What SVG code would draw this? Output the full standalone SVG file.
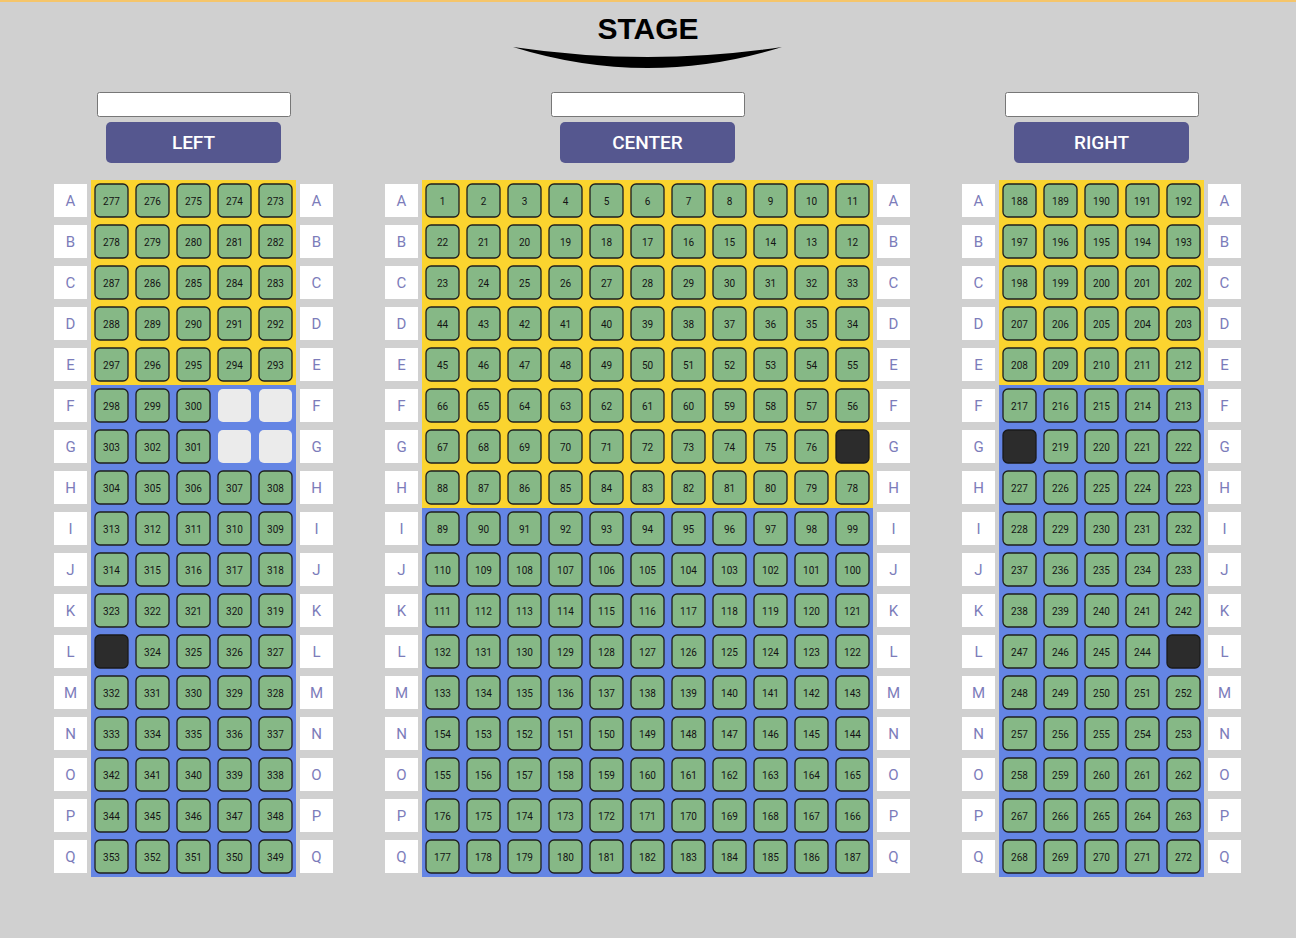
<svg xmlns="http://www.w3.org/2000/svg" xmlns:xlink="http://www.w3.org/1999/xlink" width="1296" height="938" viewBox="0 0 1296 938">
<style>
.st{fill:#86b886;stroke:#1e1e1e;stroke-width:1.3}
.bk{fill:#2c2c2c;stroke:#1a1a1a;stroke-width:1.3}
.em{fill:#ebebeb}
text{font-family:Roboto,"Liberation Sans",sans-serif}
.n{font-size:10px;fill:#141414;text-anchor:middle}
.lb{fill:#ffffff}
.lt{font-size:15px;fill:#7c7cba;text-anchor:middle}
.inp{fill:#ffffff;stroke:#777777;stroke-width:1}
.btn{fill:#55578f}
.bt{font-size:19px;font-weight:500;fill:#ffffff;text-anchor:middle}
.yl{fill:#fbd42f}
.bl{fill:#6485e4}
.stg{font-family:"Liberation Sans",Arial,sans-serif;font-size:30px;font-weight:bold;fill:#000;text-anchor:middle}
</style>
<defs>
<rect id="seat" class="st" width="33" height="33" rx="5"/>
<rect id="black" class="bk" width="33" height="33" rx="5"/>
<rect id="empty" class="em" width="33" height="33" rx="5"/>
<rect id="lbox" class="lb" width="33" height="33"/>
</defs>
<rect width="1296" height="938" fill="#d0d0d0"/>
<rect width="1296" height="2" fill="#f5c56a"/>
<g id="stage">
<text class="stg" x="648" y="39">STAGE</text>
<path d="M513,47 Q648,67 782,47 Q648,89 513,47 Z" fill="#000"/>
</g>
<g id="hdr-left"><rect class="inp" x="97.5" y="92.5" width="193" height="24" rx="2"/><rect class="btn" x="106" y="122" width="175" height="41" rx="5"/><text class="bt" x="193.5" y="148.5">LEFT</text></g>
<g id="hdr-center"><rect class="inp" x="551.5" y="92.5" width="193" height="24" rx="2"/><rect class="btn" x="560" y="122" width="175" height="41" rx="5"/><text class="bt" x="647.5" y="148.5">CENTER</text></g>
<g id="hdr-right"><rect class="inp" x="1005.5" y="92.5" width="193" height="24" rx="2"/><rect class="btn" x="1014" y="122" width="175" height="41" rx="5"/><text class="bt" x="1101.5" y="148.5">RIGHT</text></g>
<g id="panels">
<rect class="yl" x="91" y="180" width="205" height="205"/><rect class="bl" x="91" y="385" width="205" height="492"/>
<rect class="yl" x="422" y="180" width="451" height="328"/><rect class="bl" x="422" y="508" width="451" height="369"/>
<rect class="yl" x="999" y="180" width="205" height="205"/><rect class="bl" x="999" y="385" width="205" height="492"/>
</g>
<g id="row-labels">
<g id="lbl-A-left"><use href="#lbox" x="54" y="184"/><text class="lt" x="70.5" y="205.5">A</text><use href="#lbox" x="300" y="184"/><text class="lt" x="316.5" y="205.5">A</text></g>
<g id="lbl-B-left"><use href="#lbox" x="54" y="225"/><text class="lt" x="70.5" y="246.5">B</text><use href="#lbox" x="300" y="225"/><text class="lt" x="316.5" y="246.5">B</text></g>
<g id="lbl-C-left"><use href="#lbox" x="54" y="266"/><text class="lt" x="70.5" y="287.5">C</text><use href="#lbox" x="300" y="266"/><text class="lt" x="316.5" y="287.5">C</text></g>
<g id="lbl-D-left"><use href="#lbox" x="54" y="307"/><text class="lt" x="70.5" y="328.5">D</text><use href="#lbox" x="300" y="307"/><text class="lt" x="316.5" y="328.5">D</text></g>
<g id="lbl-E-left"><use href="#lbox" x="54" y="348"/><text class="lt" x="70.5" y="369.5">E</text><use href="#lbox" x="300" y="348"/><text class="lt" x="316.5" y="369.5">E</text></g>
<g id="lbl-F-left"><use href="#lbox" x="54" y="389"/><text class="lt" x="70.5" y="410.5">F</text><use href="#lbox" x="300" y="389"/><text class="lt" x="316.5" y="410.5">F</text></g>
<g id="lbl-G-left"><use href="#lbox" x="54" y="430"/><text class="lt" x="70.5" y="451.5">G</text><use href="#lbox" x="300" y="430"/><text class="lt" x="316.5" y="451.5">G</text></g>
<g id="lbl-H-left"><use href="#lbox" x="54" y="471"/><text class="lt" x="70.5" y="492.5">H</text><use href="#lbox" x="300" y="471"/><text class="lt" x="316.5" y="492.5">H</text></g>
<g id="lbl-I-left"><use href="#lbox" x="54" y="512"/><text class="lt" x="70.5" y="533.5">I</text><use href="#lbox" x="300" y="512"/><text class="lt" x="316.5" y="533.5">I</text></g>
<g id="lbl-J-left"><use href="#lbox" x="54" y="553"/><text class="lt" x="70.5" y="574.5">J</text><use href="#lbox" x="300" y="553"/><text class="lt" x="316.5" y="574.5">J</text></g>
<g id="lbl-K-left"><use href="#lbox" x="54" y="594"/><text class="lt" x="70.5" y="615.5">K</text><use href="#lbox" x="300" y="594"/><text class="lt" x="316.5" y="615.5">K</text></g>
<g id="lbl-L-left"><use href="#lbox" x="54" y="635"/><text class="lt" x="70.5" y="656.5">L</text><use href="#lbox" x="300" y="635"/><text class="lt" x="316.5" y="656.5">L</text></g>
<g id="lbl-M-left"><use href="#lbox" x="54" y="676"/><text class="lt" x="70.5" y="697.5">M</text><use href="#lbox" x="300" y="676"/><text class="lt" x="316.5" y="697.5">M</text></g>
<g id="lbl-N-left"><use href="#lbox" x="54" y="717"/><text class="lt" x="70.5" y="738.5">N</text><use href="#lbox" x="300" y="717"/><text class="lt" x="316.5" y="738.5">N</text></g>
<g id="lbl-O-left"><use href="#lbox" x="54" y="758"/><text class="lt" x="70.5" y="779.5">O</text><use href="#lbox" x="300" y="758"/><text class="lt" x="316.5" y="779.5">O</text></g>
<g id="lbl-P-left"><use href="#lbox" x="54" y="799"/><text class="lt" x="70.5" y="820.5">P</text><use href="#lbox" x="300" y="799"/><text class="lt" x="316.5" y="820.5">P</text></g>
<g id="lbl-Q-left"><use href="#lbox" x="54" y="840"/><text class="lt" x="70.5" y="861.5">Q</text><use href="#lbox" x="300" y="840"/><text class="lt" x="316.5" y="861.5">Q</text></g>
<g id="lbl-A-center"><use href="#lbox" x="385" y="184"/><text class="lt" x="401.5" y="205.5">A</text><use href="#lbox" x="877" y="184"/><text class="lt" x="893.5" y="205.5">A</text></g>
<g id="lbl-B-center"><use href="#lbox" x="385" y="225"/><text class="lt" x="401.5" y="246.5">B</text><use href="#lbox" x="877" y="225"/><text class="lt" x="893.5" y="246.5">B</text></g>
<g id="lbl-C-center"><use href="#lbox" x="385" y="266"/><text class="lt" x="401.5" y="287.5">C</text><use href="#lbox" x="877" y="266"/><text class="lt" x="893.5" y="287.5">C</text></g>
<g id="lbl-D-center"><use href="#lbox" x="385" y="307"/><text class="lt" x="401.5" y="328.5">D</text><use href="#lbox" x="877" y="307"/><text class="lt" x="893.5" y="328.5">D</text></g>
<g id="lbl-E-center"><use href="#lbox" x="385" y="348"/><text class="lt" x="401.5" y="369.5">E</text><use href="#lbox" x="877" y="348"/><text class="lt" x="893.5" y="369.5">E</text></g>
<g id="lbl-F-center"><use href="#lbox" x="385" y="389"/><text class="lt" x="401.5" y="410.5">F</text><use href="#lbox" x="877" y="389"/><text class="lt" x="893.5" y="410.5">F</text></g>
<g id="lbl-G-center"><use href="#lbox" x="385" y="430"/><text class="lt" x="401.5" y="451.5">G</text><use href="#lbox" x="877" y="430"/><text class="lt" x="893.5" y="451.5">G</text></g>
<g id="lbl-H-center"><use href="#lbox" x="385" y="471"/><text class="lt" x="401.5" y="492.5">H</text><use href="#lbox" x="877" y="471"/><text class="lt" x="893.5" y="492.5">H</text></g>
<g id="lbl-I-center"><use href="#lbox" x="385" y="512"/><text class="lt" x="401.5" y="533.5">I</text><use href="#lbox" x="877" y="512"/><text class="lt" x="893.5" y="533.5">I</text></g>
<g id="lbl-J-center"><use href="#lbox" x="385" y="553"/><text class="lt" x="401.5" y="574.5">J</text><use href="#lbox" x="877" y="553"/><text class="lt" x="893.5" y="574.5">J</text></g>
<g id="lbl-K-center"><use href="#lbox" x="385" y="594"/><text class="lt" x="401.5" y="615.5">K</text><use href="#lbox" x="877" y="594"/><text class="lt" x="893.5" y="615.5">K</text></g>
<g id="lbl-L-center"><use href="#lbox" x="385" y="635"/><text class="lt" x="401.5" y="656.5">L</text><use href="#lbox" x="877" y="635"/><text class="lt" x="893.5" y="656.5">L</text></g>
<g id="lbl-M-center"><use href="#lbox" x="385" y="676"/><text class="lt" x="401.5" y="697.5">M</text><use href="#lbox" x="877" y="676"/><text class="lt" x="893.5" y="697.5">M</text></g>
<g id="lbl-N-center"><use href="#lbox" x="385" y="717"/><text class="lt" x="401.5" y="738.5">N</text><use href="#lbox" x="877" y="717"/><text class="lt" x="893.5" y="738.5">N</text></g>
<g id="lbl-O-center"><use href="#lbox" x="385" y="758"/><text class="lt" x="401.5" y="779.5">O</text><use href="#lbox" x="877" y="758"/><text class="lt" x="893.5" y="779.5">O</text></g>
<g id="lbl-P-center"><use href="#lbox" x="385" y="799"/><text class="lt" x="401.5" y="820.5">P</text><use href="#lbox" x="877" y="799"/><text class="lt" x="893.5" y="820.5">P</text></g>
<g id="lbl-Q-center"><use href="#lbox" x="385" y="840"/><text class="lt" x="401.5" y="861.5">Q</text><use href="#lbox" x="877" y="840"/><text class="lt" x="893.5" y="861.5">Q</text></g>
<g id="lbl-A-right"><use href="#lbox" x="962" y="184"/><text class="lt" x="978.5" y="205.5">A</text><use href="#lbox" x="1208" y="184"/><text class="lt" x="1224.5" y="205.5">A</text></g>
<g id="lbl-B-right"><use href="#lbox" x="962" y="225"/><text class="lt" x="978.5" y="246.5">B</text><use href="#lbox" x="1208" y="225"/><text class="lt" x="1224.5" y="246.5">B</text></g>
<g id="lbl-C-right"><use href="#lbox" x="962" y="266"/><text class="lt" x="978.5" y="287.5">C</text><use href="#lbox" x="1208" y="266"/><text class="lt" x="1224.5" y="287.5">C</text></g>
<g id="lbl-D-right"><use href="#lbox" x="962" y="307"/><text class="lt" x="978.5" y="328.5">D</text><use href="#lbox" x="1208" y="307"/><text class="lt" x="1224.5" y="328.5">D</text></g>
<g id="lbl-E-right"><use href="#lbox" x="962" y="348"/><text class="lt" x="978.5" y="369.5">E</text><use href="#lbox" x="1208" y="348"/><text class="lt" x="1224.5" y="369.5">E</text></g>
<g id="lbl-F-right"><use href="#lbox" x="962" y="389"/><text class="lt" x="978.5" y="410.5">F</text><use href="#lbox" x="1208" y="389"/><text class="lt" x="1224.5" y="410.5">F</text></g>
<g id="lbl-G-right"><use href="#lbox" x="962" y="430"/><text class="lt" x="978.5" y="451.5">G</text><use href="#lbox" x="1208" y="430"/><text class="lt" x="1224.5" y="451.5">G</text></g>
<g id="lbl-H-right"><use href="#lbox" x="962" y="471"/><text class="lt" x="978.5" y="492.5">H</text><use href="#lbox" x="1208" y="471"/><text class="lt" x="1224.5" y="492.5">H</text></g>
<g id="lbl-I-right"><use href="#lbox" x="962" y="512"/><text class="lt" x="978.5" y="533.5">I</text><use href="#lbox" x="1208" y="512"/><text class="lt" x="1224.5" y="533.5">I</text></g>
<g id="lbl-J-right"><use href="#lbox" x="962" y="553"/><text class="lt" x="978.5" y="574.5">J</text><use href="#lbox" x="1208" y="553"/><text class="lt" x="1224.5" y="574.5">J</text></g>
<g id="lbl-K-right"><use href="#lbox" x="962" y="594"/><text class="lt" x="978.5" y="615.5">K</text><use href="#lbox" x="1208" y="594"/><text class="lt" x="1224.5" y="615.5">K</text></g>
<g id="lbl-L-right"><use href="#lbox" x="962" y="635"/><text class="lt" x="978.5" y="656.5">L</text><use href="#lbox" x="1208" y="635"/><text class="lt" x="1224.5" y="656.5">L</text></g>
<g id="lbl-M-right"><use href="#lbox" x="962" y="676"/><text class="lt" x="978.5" y="697.5">M</text><use href="#lbox" x="1208" y="676"/><text class="lt" x="1224.5" y="697.5">M</text></g>
<g id="lbl-N-right"><use href="#lbox" x="962" y="717"/><text class="lt" x="978.5" y="738.5">N</text><use href="#lbox" x="1208" y="717"/><text class="lt" x="1224.5" y="738.5">N</text></g>
<g id="lbl-O-right"><use href="#lbox" x="962" y="758"/><text class="lt" x="978.5" y="779.5">O</text><use href="#lbox" x="1208" y="758"/><text class="lt" x="1224.5" y="779.5">O</text></g>
<g id="lbl-P-right"><use href="#lbox" x="962" y="799"/><text class="lt" x="978.5" y="820.5">P</text><use href="#lbox" x="1208" y="799"/><text class="lt" x="1224.5" y="820.5">P</text></g>
<g id="lbl-Q-right"><use href="#lbox" x="962" y="840"/><text class="lt" x="978.5" y="861.5">Q</text><use href="#lbox" x="1208" y="840"/><text class="lt" x="1224.5" y="861.5">Q</text></g>
</g>
<g id="left-seats">
<g id="s277" transform="translate(95,184)"><use href="#seat"/><text class="n" x="16.5" y="21">277</text></g>
<g id="s276" transform="translate(136,184)"><use href="#seat"/><text class="n" x="16.5" y="21">276</text></g>
<g id="s275" transform="translate(177,184)"><use href="#seat"/><text class="n" x="16.5" y="21">275</text></g>
<g id="s274" transform="translate(218,184)"><use href="#seat"/><text class="n" x="16.5" y="21">274</text></g>
<g id="s273" transform="translate(259,184)"><use href="#seat"/><text class="n" x="16.5" y="21">273</text></g>
<g id="s278" transform="translate(95,225)"><use href="#seat"/><text class="n" x="16.5" y="21">278</text></g>
<g id="s279" transform="translate(136,225)"><use href="#seat"/><text class="n" x="16.5" y="21">279</text></g>
<g id="s280" transform="translate(177,225)"><use href="#seat"/><text class="n" x="16.5" y="21">280</text></g>
<g id="s281" transform="translate(218,225)"><use href="#seat"/><text class="n" x="16.5" y="21">281</text></g>
<g id="s282" transform="translate(259,225)"><use href="#seat"/><text class="n" x="16.5" y="21">282</text></g>
<g id="s287" transform="translate(95,266)"><use href="#seat"/><text class="n" x="16.5" y="21">287</text></g>
<g id="s286" transform="translate(136,266)"><use href="#seat"/><text class="n" x="16.5" y="21">286</text></g>
<g id="s285" transform="translate(177,266)"><use href="#seat"/><text class="n" x="16.5" y="21">285</text></g>
<g id="s284" transform="translate(218,266)"><use href="#seat"/><text class="n" x="16.5" y="21">284</text></g>
<g id="s283" transform="translate(259,266)"><use href="#seat"/><text class="n" x="16.5" y="21">283</text></g>
<g id="s288" transform="translate(95,307)"><use href="#seat"/><text class="n" x="16.5" y="21">288</text></g>
<g id="s289" transform="translate(136,307)"><use href="#seat"/><text class="n" x="16.5" y="21">289</text></g>
<g id="s290" transform="translate(177,307)"><use href="#seat"/><text class="n" x="16.5" y="21">290</text></g>
<g id="s291" transform="translate(218,307)"><use href="#seat"/><text class="n" x="16.5" y="21">291</text></g>
<g id="s292" transform="translate(259,307)"><use href="#seat"/><text class="n" x="16.5" y="21">292</text></g>
<g id="s297" transform="translate(95,348)"><use href="#seat"/><text class="n" x="16.5" y="21">297</text></g>
<g id="s296" transform="translate(136,348)"><use href="#seat"/><text class="n" x="16.5" y="21">296</text></g>
<g id="s295" transform="translate(177,348)"><use href="#seat"/><text class="n" x="16.5" y="21">295</text></g>
<g id="s294" transform="translate(218,348)"><use href="#seat"/><text class="n" x="16.5" y="21">294</text></g>
<g id="s293" transform="translate(259,348)"><use href="#seat"/><text class="n" x="16.5" y="21">293</text></g>
<g id="s298" transform="translate(95,389)"><use href="#seat"/><text class="n" x="16.5" y="21">298</text></g>
<g id="s299" transform="translate(136,389)"><use href="#seat"/><text class="n" x="16.5" y="21">299</text></g>
<g id="s300" transform="translate(177,389)"><use href="#seat"/><text class="n" x="16.5" y="21">300</text></g>
<g id="sLF4" transform="translate(218,389)"><use href="#empty"/></g>
<g id="sLF5" transform="translate(259,389)"><use href="#empty"/></g>
<g id="s303" transform="translate(95,430)"><use href="#seat"/><text class="n" x="16.5" y="21">303</text></g>
<g id="s302" transform="translate(136,430)"><use href="#seat"/><text class="n" x="16.5" y="21">302</text></g>
<g id="s301" transform="translate(177,430)"><use href="#seat"/><text class="n" x="16.5" y="21">301</text></g>
<g id="sLG4" transform="translate(218,430)"><use href="#empty"/></g>
<g id="sLG5" transform="translate(259,430)"><use href="#empty"/></g>
<g id="s304" transform="translate(95,471)"><use href="#seat"/><text class="n" x="16.5" y="21">304</text></g>
<g id="s305" transform="translate(136,471)"><use href="#seat"/><text class="n" x="16.5" y="21">305</text></g>
<g id="s306" transform="translate(177,471)"><use href="#seat"/><text class="n" x="16.5" y="21">306</text></g>
<g id="s307" transform="translate(218,471)"><use href="#seat"/><text class="n" x="16.5" y="21">307</text></g>
<g id="s308" transform="translate(259,471)"><use href="#seat"/><text class="n" x="16.5" y="21">308</text></g>
<g id="s313" transform="translate(95,512)"><use href="#seat"/><text class="n" x="16.5" y="21">313</text></g>
<g id="s312" transform="translate(136,512)"><use href="#seat"/><text class="n" x="16.5" y="21">312</text></g>
<g id="s311" transform="translate(177,512)"><use href="#seat"/><text class="n" x="16.5" y="21">311</text></g>
<g id="s310" transform="translate(218,512)"><use href="#seat"/><text class="n" x="16.5" y="21">310</text></g>
<g id="s309" transform="translate(259,512)"><use href="#seat"/><text class="n" x="16.5" y="21">309</text></g>
<g id="s314" transform="translate(95,553)"><use href="#seat"/><text class="n" x="16.5" y="21">314</text></g>
<g id="s315" transform="translate(136,553)"><use href="#seat"/><text class="n" x="16.5" y="21">315</text></g>
<g id="s316" transform="translate(177,553)"><use href="#seat"/><text class="n" x="16.5" y="21">316</text></g>
<g id="s317" transform="translate(218,553)"><use href="#seat"/><text class="n" x="16.5" y="21">317</text></g>
<g id="s318" transform="translate(259,553)"><use href="#seat"/><text class="n" x="16.5" y="21">318</text></g>
<g id="s323" transform="translate(95,594)"><use href="#seat"/><text class="n" x="16.5" y="21">323</text></g>
<g id="s322" transform="translate(136,594)"><use href="#seat"/><text class="n" x="16.5" y="21">322</text></g>
<g id="s321" transform="translate(177,594)"><use href="#seat"/><text class="n" x="16.5" y="21">321</text></g>
<g id="s320" transform="translate(218,594)"><use href="#seat"/><text class="n" x="16.5" y="21">320</text></g>
<g id="s319" transform="translate(259,594)"><use href="#seat"/><text class="n" x="16.5" y="21">319</text></g>
<g id="sLL1" transform="translate(95,635)"><use href="#black"/></g>
<g id="s324" transform="translate(136,635)"><use href="#seat"/><text class="n" x="16.5" y="21">324</text></g>
<g id="s325" transform="translate(177,635)"><use href="#seat"/><text class="n" x="16.5" y="21">325</text></g>
<g id="s326" transform="translate(218,635)"><use href="#seat"/><text class="n" x="16.5" y="21">326</text></g>
<g id="s327" transform="translate(259,635)"><use href="#seat"/><text class="n" x="16.5" y="21">327</text></g>
<g id="s332" transform="translate(95,676)"><use href="#seat"/><text class="n" x="16.5" y="21">332</text></g>
<g id="s331" transform="translate(136,676)"><use href="#seat"/><text class="n" x="16.5" y="21">331</text></g>
<g id="s330" transform="translate(177,676)"><use href="#seat"/><text class="n" x="16.5" y="21">330</text></g>
<g id="s329" transform="translate(218,676)"><use href="#seat"/><text class="n" x="16.5" y="21">329</text></g>
<g id="s328" transform="translate(259,676)"><use href="#seat"/><text class="n" x="16.5" y="21">328</text></g>
<g id="s333" transform="translate(95,717)"><use href="#seat"/><text class="n" x="16.5" y="21">333</text></g>
<g id="s334" transform="translate(136,717)"><use href="#seat"/><text class="n" x="16.5" y="21">334</text></g>
<g id="s335" transform="translate(177,717)"><use href="#seat"/><text class="n" x="16.5" y="21">335</text></g>
<g id="s336" transform="translate(218,717)"><use href="#seat"/><text class="n" x="16.5" y="21">336</text></g>
<g id="s337" transform="translate(259,717)"><use href="#seat"/><text class="n" x="16.5" y="21">337</text></g>
<g id="s342" transform="translate(95,758)"><use href="#seat"/><text class="n" x="16.5" y="21">342</text></g>
<g id="s341" transform="translate(136,758)"><use href="#seat"/><text class="n" x="16.5" y="21">341</text></g>
<g id="s340" transform="translate(177,758)"><use href="#seat"/><text class="n" x="16.5" y="21">340</text></g>
<g id="s339" transform="translate(218,758)"><use href="#seat"/><text class="n" x="16.5" y="21">339</text></g>
<g id="s338" transform="translate(259,758)"><use href="#seat"/><text class="n" x="16.5" y="21">338</text></g>
<g id="s344" transform="translate(95,799)"><use href="#seat"/><text class="n" x="16.5" y="21">344</text></g>
<g id="s345" transform="translate(136,799)"><use href="#seat"/><text class="n" x="16.5" y="21">345</text></g>
<g id="s346" transform="translate(177,799)"><use href="#seat"/><text class="n" x="16.5" y="21">346</text></g>
<g id="s347" transform="translate(218,799)"><use href="#seat"/><text class="n" x="16.5" y="21">347</text></g>
<g id="s348" transform="translate(259,799)"><use href="#seat"/><text class="n" x="16.5" y="21">348</text></g>
<g id="s353" transform="translate(95,840)"><use href="#seat"/><text class="n" x="16.5" y="21">353</text></g>
<g id="s352" transform="translate(136,840)"><use href="#seat"/><text class="n" x="16.5" y="21">352</text></g>
<g id="s351" transform="translate(177,840)"><use href="#seat"/><text class="n" x="16.5" y="21">351</text></g>
<g id="s350" transform="translate(218,840)"><use href="#seat"/><text class="n" x="16.5" y="21">350</text></g>
<g id="s349" transform="translate(259,840)"><use href="#seat"/><text class="n" x="16.5" y="21">349</text></g>
</g>
<g id="center-seats">
<g id="s1" transform="translate(426,184)"><use href="#seat"/><text class="n" x="16.5" y="21">1</text></g>
<g id="s2" transform="translate(467,184)"><use href="#seat"/><text class="n" x="16.5" y="21">2</text></g>
<g id="s3" transform="translate(508,184)"><use href="#seat"/><text class="n" x="16.5" y="21">3</text></g>
<g id="s4" transform="translate(549,184)"><use href="#seat"/><text class="n" x="16.5" y="21">4</text></g>
<g id="s5" transform="translate(590,184)"><use href="#seat"/><text class="n" x="16.5" y="21">5</text></g>
<g id="s6" transform="translate(631,184)"><use href="#seat"/><text class="n" x="16.5" y="21">6</text></g>
<g id="s7" transform="translate(672,184)"><use href="#seat"/><text class="n" x="16.5" y="21">7</text></g>
<g id="s8" transform="translate(713,184)"><use href="#seat"/><text class="n" x="16.5" y="21">8</text></g>
<g id="s9" transform="translate(754,184)"><use href="#seat"/><text class="n" x="16.5" y="21">9</text></g>
<g id="s10" transform="translate(795,184)"><use href="#seat"/><text class="n" x="16.5" y="21">10</text></g>
<g id="s11" transform="translate(836,184)"><use href="#seat"/><text class="n" x="16.5" y="21">11</text></g>
<g id="s22" transform="translate(426,225)"><use href="#seat"/><text class="n" x="16.5" y="21">22</text></g>
<g id="s21" transform="translate(467,225)"><use href="#seat"/><text class="n" x="16.5" y="21">21</text></g>
<g id="s20" transform="translate(508,225)"><use href="#seat"/><text class="n" x="16.5" y="21">20</text></g>
<g id="s19" transform="translate(549,225)"><use href="#seat"/><text class="n" x="16.5" y="21">19</text></g>
<g id="s18" transform="translate(590,225)"><use href="#seat"/><text class="n" x="16.5" y="21">18</text></g>
<g id="s17" transform="translate(631,225)"><use href="#seat"/><text class="n" x="16.5" y="21">17</text></g>
<g id="s16" transform="translate(672,225)"><use href="#seat"/><text class="n" x="16.5" y="21">16</text></g>
<g id="s15" transform="translate(713,225)"><use href="#seat"/><text class="n" x="16.5" y="21">15</text></g>
<g id="s14" transform="translate(754,225)"><use href="#seat"/><text class="n" x="16.5" y="21">14</text></g>
<g id="s13" transform="translate(795,225)"><use href="#seat"/><text class="n" x="16.5" y="21">13</text></g>
<g id="s12" transform="translate(836,225)"><use href="#seat"/><text class="n" x="16.5" y="21">12</text></g>
<g id="s23" transform="translate(426,266)"><use href="#seat"/><text class="n" x="16.5" y="21">23</text></g>
<g id="s24" transform="translate(467,266)"><use href="#seat"/><text class="n" x="16.5" y="21">24</text></g>
<g id="s25" transform="translate(508,266)"><use href="#seat"/><text class="n" x="16.5" y="21">25</text></g>
<g id="s26" transform="translate(549,266)"><use href="#seat"/><text class="n" x="16.5" y="21">26</text></g>
<g id="s27" transform="translate(590,266)"><use href="#seat"/><text class="n" x="16.5" y="21">27</text></g>
<g id="s28" transform="translate(631,266)"><use href="#seat"/><text class="n" x="16.5" y="21">28</text></g>
<g id="s29" transform="translate(672,266)"><use href="#seat"/><text class="n" x="16.5" y="21">29</text></g>
<g id="s30" transform="translate(713,266)"><use href="#seat"/><text class="n" x="16.5" y="21">30</text></g>
<g id="s31" transform="translate(754,266)"><use href="#seat"/><text class="n" x="16.5" y="21">31</text></g>
<g id="s32" transform="translate(795,266)"><use href="#seat"/><text class="n" x="16.5" y="21">32</text></g>
<g id="s33" transform="translate(836,266)"><use href="#seat"/><text class="n" x="16.5" y="21">33</text></g>
<g id="s44" transform="translate(426,307)"><use href="#seat"/><text class="n" x="16.5" y="21">44</text></g>
<g id="s43" transform="translate(467,307)"><use href="#seat"/><text class="n" x="16.5" y="21">43</text></g>
<g id="s42" transform="translate(508,307)"><use href="#seat"/><text class="n" x="16.5" y="21">42</text></g>
<g id="s41" transform="translate(549,307)"><use href="#seat"/><text class="n" x="16.5" y="21">41</text></g>
<g id="s40" transform="translate(590,307)"><use href="#seat"/><text class="n" x="16.5" y="21">40</text></g>
<g id="s39" transform="translate(631,307)"><use href="#seat"/><text class="n" x="16.5" y="21">39</text></g>
<g id="s38" transform="translate(672,307)"><use href="#seat"/><text class="n" x="16.5" y="21">38</text></g>
<g id="s37" transform="translate(713,307)"><use href="#seat"/><text class="n" x="16.5" y="21">37</text></g>
<g id="s36" transform="translate(754,307)"><use href="#seat"/><text class="n" x="16.5" y="21">36</text></g>
<g id="s35" transform="translate(795,307)"><use href="#seat"/><text class="n" x="16.5" y="21">35</text></g>
<g id="s34" transform="translate(836,307)"><use href="#seat"/><text class="n" x="16.5" y="21">34</text></g>
<g id="s45" transform="translate(426,348)"><use href="#seat"/><text class="n" x="16.5" y="21">45</text></g>
<g id="s46" transform="translate(467,348)"><use href="#seat"/><text class="n" x="16.5" y="21">46</text></g>
<g id="s47" transform="translate(508,348)"><use href="#seat"/><text class="n" x="16.5" y="21">47</text></g>
<g id="s48" transform="translate(549,348)"><use href="#seat"/><text class="n" x="16.5" y="21">48</text></g>
<g id="s49" transform="translate(590,348)"><use href="#seat"/><text class="n" x="16.5" y="21">49</text></g>
<g id="s50" transform="translate(631,348)"><use href="#seat"/><text class="n" x="16.5" y="21">50</text></g>
<g id="s51" transform="translate(672,348)"><use href="#seat"/><text class="n" x="16.5" y="21">51</text></g>
<g id="s52" transform="translate(713,348)"><use href="#seat"/><text class="n" x="16.5" y="21">52</text></g>
<g id="s53" transform="translate(754,348)"><use href="#seat"/><text class="n" x="16.5" y="21">53</text></g>
<g id="s54" transform="translate(795,348)"><use href="#seat"/><text class="n" x="16.5" y="21">54</text></g>
<g id="s55" transform="translate(836,348)"><use href="#seat"/><text class="n" x="16.5" y="21">55</text></g>
<g id="s66" transform="translate(426,389)"><use href="#seat"/><text class="n" x="16.5" y="21">66</text></g>
<g id="s65" transform="translate(467,389)"><use href="#seat"/><text class="n" x="16.5" y="21">65</text></g>
<g id="s64" transform="translate(508,389)"><use href="#seat"/><text class="n" x="16.5" y="21">64</text></g>
<g id="s63" transform="translate(549,389)"><use href="#seat"/><text class="n" x="16.5" y="21">63</text></g>
<g id="s62" transform="translate(590,389)"><use href="#seat"/><text class="n" x="16.5" y="21">62</text></g>
<g id="s61" transform="translate(631,389)"><use href="#seat"/><text class="n" x="16.5" y="21">61</text></g>
<g id="s60" transform="translate(672,389)"><use href="#seat"/><text class="n" x="16.5" y="21">60</text></g>
<g id="s59" transform="translate(713,389)"><use href="#seat"/><text class="n" x="16.5" y="21">59</text></g>
<g id="s58" transform="translate(754,389)"><use href="#seat"/><text class="n" x="16.5" y="21">58</text></g>
<g id="s57" transform="translate(795,389)"><use href="#seat"/><text class="n" x="16.5" y="21">57</text></g>
<g id="s56" transform="translate(836,389)"><use href="#seat"/><text class="n" x="16.5" y="21">56</text></g>
<g id="s67" transform="translate(426,430)"><use href="#seat"/><text class="n" x="16.5" y="21">67</text></g>
<g id="s68" transform="translate(467,430)"><use href="#seat"/><text class="n" x="16.5" y="21">68</text></g>
<g id="s69" transform="translate(508,430)"><use href="#seat"/><text class="n" x="16.5" y="21">69</text></g>
<g id="s70" transform="translate(549,430)"><use href="#seat"/><text class="n" x="16.5" y="21">70</text></g>
<g id="s71" transform="translate(590,430)"><use href="#seat"/><text class="n" x="16.5" y="21">71</text></g>
<g id="s72" transform="translate(631,430)"><use href="#seat"/><text class="n" x="16.5" y="21">72</text></g>
<g id="s73" transform="translate(672,430)"><use href="#seat"/><text class="n" x="16.5" y="21">73</text></g>
<g id="s74" transform="translate(713,430)"><use href="#seat"/><text class="n" x="16.5" y="21">74</text></g>
<g id="s75" transform="translate(754,430)"><use href="#seat"/><text class="n" x="16.5" y="21">75</text></g>
<g id="s76" transform="translate(795,430)"><use href="#seat"/><text class="n" x="16.5" y="21">76</text></g>
<g id="sCG11" transform="translate(836,430)"><use href="#black"/></g>
<g id="s88" transform="translate(426,471)"><use href="#seat"/><text class="n" x="16.5" y="21">88</text></g>
<g id="s87" transform="translate(467,471)"><use href="#seat"/><text class="n" x="16.5" y="21">87</text></g>
<g id="s86" transform="translate(508,471)"><use href="#seat"/><text class="n" x="16.5" y="21">86</text></g>
<g id="s85" transform="translate(549,471)"><use href="#seat"/><text class="n" x="16.5" y="21">85</text></g>
<g id="s84" transform="translate(590,471)"><use href="#seat"/><text class="n" x="16.5" y="21">84</text></g>
<g id="s83" transform="translate(631,471)"><use href="#seat"/><text class="n" x="16.5" y="21">83</text></g>
<g id="s82" transform="translate(672,471)"><use href="#seat"/><text class="n" x="16.5" y="21">82</text></g>
<g id="s81" transform="translate(713,471)"><use href="#seat"/><text class="n" x="16.5" y="21">81</text></g>
<g id="s80" transform="translate(754,471)"><use href="#seat"/><text class="n" x="16.5" y="21">80</text></g>
<g id="s79" transform="translate(795,471)"><use href="#seat"/><text class="n" x="16.5" y="21">79</text></g>
<g id="s78" transform="translate(836,471)"><use href="#seat"/><text class="n" x="16.5" y="21">78</text></g>
<g id="s89" transform="translate(426,512)"><use href="#seat"/><text class="n" x="16.5" y="21">89</text></g>
<g id="s90" transform="translate(467,512)"><use href="#seat"/><text class="n" x="16.5" y="21">90</text></g>
<g id="s91" transform="translate(508,512)"><use href="#seat"/><text class="n" x="16.5" y="21">91</text></g>
<g id="s92" transform="translate(549,512)"><use href="#seat"/><text class="n" x="16.5" y="21">92</text></g>
<g id="s93" transform="translate(590,512)"><use href="#seat"/><text class="n" x="16.5" y="21">93</text></g>
<g id="s94" transform="translate(631,512)"><use href="#seat"/><text class="n" x="16.5" y="21">94</text></g>
<g id="s95" transform="translate(672,512)"><use href="#seat"/><text class="n" x="16.5" y="21">95</text></g>
<g id="s96" transform="translate(713,512)"><use href="#seat"/><text class="n" x="16.5" y="21">96</text></g>
<g id="s97" transform="translate(754,512)"><use href="#seat"/><text class="n" x="16.5" y="21">97</text></g>
<g id="s98" transform="translate(795,512)"><use href="#seat"/><text class="n" x="16.5" y="21">98</text></g>
<g id="s99" transform="translate(836,512)"><use href="#seat"/><text class="n" x="16.5" y="21">99</text></g>
<g id="s110" transform="translate(426,553)"><use href="#seat"/><text class="n" x="16.5" y="21">110</text></g>
<g id="s109" transform="translate(467,553)"><use href="#seat"/><text class="n" x="16.5" y="21">109</text></g>
<g id="s108" transform="translate(508,553)"><use href="#seat"/><text class="n" x="16.5" y="21">108</text></g>
<g id="s107" transform="translate(549,553)"><use href="#seat"/><text class="n" x="16.5" y="21">107</text></g>
<g id="s106" transform="translate(590,553)"><use href="#seat"/><text class="n" x="16.5" y="21">106</text></g>
<g id="s105" transform="translate(631,553)"><use href="#seat"/><text class="n" x="16.5" y="21">105</text></g>
<g id="s104" transform="translate(672,553)"><use href="#seat"/><text class="n" x="16.5" y="21">104</text></g>
<g id="s103" transform="translate(713,553)"><use href="#seat"/><text class="n" x="16.5" y="21">103</text></g>
<g id="s102" transform="translate(754,553)"><use href="#seat"/><text class="n" x="16.5" y="21">102</text></g>
<g id="s101" transform="translate(795,553)"><use href="#seat"/><text class="n" x="16.5" y="21">101</text></g>
<g id="s100" transform="translate(836,553)"><use href="#seat"/><text class="n" x="16.5" y="21">100</text></g>
<g id="s111" transform="translate(426,594)"><use href="#seat"/><text class="n" x="16.5" y="21">111</text></g>
<g id="s112" transform="translate(467,594)"><use href="#seat"/><text class="n" x="16.5" y="21">112</text></g>
<g id="s113" transform="translate(508,594)"><use href="#seat"/><text class="n" x="16.5" y="21">113</text></g>
<g id="s114" transform="translate(549,594)"><use href="#seat"/><text class="n" x="16.5" y="21">114</text></g>
<g id="s115" transform="translate(590,594)"><use href="#seat"/><text class="n" x="16.5" y="21">115</text></g>
<g id="s116" transform="translate(631,594)"><use href="#seat"/><text class="n" x="16.5" y="21">116</text></g>
<g id="s117" transform="translate(672,594)"><use href="#seat"/><text class="n" x="16.5" y="21">117</text></g>
<g id="s118" transform="translate(713,594)"><use href="#seat"/><text class="n" x="16.5" y="21">118</text></g>
<g id="s119" transform="translate(754,594)"><use href="#seat"/><text class="n" x="16.5" y="21">119</text></g>
<g id="s120" transform="translate(795,594)"><use href="#seat"/><text class="n" x="16.5" y="21">120</text></g>
<g id="s121" transform="translate(836,594)"><use href="#seat"/><text class="n" x="16.5" y="21">121</text></g>
<g id="s132" transform="translate(426,635)"><use href="#seat"/><text class="n" x="16.5" y="21">132</text></g>
<g id="s131" transform="translate(467,635)"><use href="#seat"/><text class="n" x="16.5" y="21">131</text></g>
<g id="s130" transform="translate(508,635)"><use href="#seat"/><text class="n" x="16.5" y="21">130</text></g>
<g id="s129" transform="translate(549,635)"><use href="#seat"/><text class="n" x="16.5" y="21">129</text></g>
<g id="s128" transform="translate(590,635)"><use href="#seat"/><text class="n" x="16.5" y="21">128</text></g>
<g id="s127" transform="translate(631,635)"><use href="#seat"/><text class="n" x="16.5" y="21">127</text></g>
<g id="s126" transform="translate(672,635)"><use href="#seat"/><text class="n" x="16.5" y="21">126</text></g>
<g id="s125" transform="translate(713,635)"><use href="#seat"/><text class="n" x="16.5" y="21">125</text></g>
<g id="s124" transform="translate(754,635)"><use href="#seat"/><text class="n" x="16.5" y="21">124</text></g>
<g id="s123" transform="translate(795,635)"><use href="#seat"/><text class="n" x="16.5" y="21">123</text></g>
<g id="s122" transform="translate(836,635)"><use href="#seat"/><text class="n" x="16.5" y="21">122</text></g>
<g id="s133" transform="translate(426,676)"><use href="#seat"/><text class="n" x="16.5" y="21">133</text></g>
<g id="s134" transform="translate(467,676)"><use href="#seat"/><text class="n" x="16.5" y="21">134</text></g>
<g id="s135" transform="translate(508,676)"><use href="#seat"/><text class="n" x="16.5" y="21">135</text></g>
<g id="s136" transform="translate(549,676)"><use href="#seat"/><text class="n" x="16.5" y="21">136</text></g>
<g id="s137" transform="translate(590,676)"><use href="#seat"/><text class="n" x="16.5" y="21">137</text></g>
<g id="s138" transform="translate(631,676)"><use href="#seat"/><text class="n" x="16.5" y="21">138</text></g>
<g id="s139" transform="translate(672,676)"><use href="#seat"/><text class="n" x="16.5" y="21">139</text></g>
<g id="s140" transform="translate(713,676)"><use href="#seat"/><text class="n" x="16.5" y="21">140</text></g>
<g id="s141" transform="translate(754,676)"><use href="#seat"/><text class="n" x="16.5" y="21">141</text></g>
<g id="s142" transform="translate(795,676)"><use href="#seat"/><text class="n" x="16.5" y="21">142</text></g>
<g id="s143" transform="translate(836,676)"><use href="#seat"/><text class="n" x="16.5" y="21">143</text></g>
<g id="s154" transform="translate(426,717)"><use href="#seat"/><text class="n" x="16.5" y="21">154</text></g>
<g id="s153" transform="translate(467,717)"><use href="#seat"/><text class="n" x="16.5" y="21">153</text></g>
<g id="s152" transform="translate(508,717)"><use href="#seat"/><text class="n" x="16.5" y="21">152</text></g>
<g id="s151" transform="translate(549,717)"><use href="#seat"/><text class="n" x="16.5" y="21">151</text></g>
<g id="s150" transform="translate(590,717)"><use href="#seat"/><text class="n" x="16.5" y="21">150</text></g>
<g id="s149" transform="translate(631,717)"><use href="#seat"/><text class="n" x="16.5" y="21">149</text></g>
<g id="s148" transform="translate(672,717)"><use href="#seat"/><text class="n" x="16.5" y="21">148</text></g>
<g id="s147" transform="translate(713,717)"><use href="#seat"/><text class="n" x="16.5" y="21">147</text></g>
<g id="s146" transform="translate(754,717)"><use href="#seat"/><text class="n" x="16.5" y="21">146</text></g>
<g id="s145" transform="translate(795,717)"><use href="#seat"/><text class="n" x="16.5" y="21">145</text></g>
<g id="s144" transform="translate(836,717)"><use href="#seat"/><text class="n" x="16.5" y="21">144</text></g>
<g id="s155" transform="translate(426,758)"><use href="#seat"/><text class="n" x="16.5" y="21">155</text></g>
<g id="s156" transform="translate(467,758)"><use href="#seat"/><text class="n" x="16.5" y="21">156</text></g>
<g id="s157" transform="translate(508,758)"><use href="#seat"/><text class="n" x="16.5" y="21">157</text></g>
<g id="s158" transform="translate(549,758)"><use href="#seat"/><text class="n" x="16.5" y="21">158</text></g>
<g id="s159" transform="translate(590,758)"><use href="#seat"/><text class="n" x="16.5" y="21">159</text></g>
<g id="s160" transform="translate(631,758)"><use href="#seat"/><text class="n" x="16.5" y="21">160</text></g>
<g id="s161" transform="translate(672,758)"><use href="#seat"/><text class="n" x="16.5" y="21">161</text></g>
<g id="s162" transform="translate(713,758)"><use href="#seat"/><text class="n" x="16.5" y="21">162</text></g>
<g id="s163" transform="translate(754,758)"><use href="#seat"/><text class="n" x="16.5" y="21">163</text></g>
<g id="s164" transform="translate(795,758)"><use href="#seat"/><text class="n" x="16.5" y="21">164</text></g>
<g id="s165" transform="translate(836,758)"><use href="#seat"/><text class="n" x="16.5" y="21">165</text></g>
<g id="s176" transform="translate(426,799)"><use href="#seat"/><text class="n" x="16.5" y="21">176</text></g>
<g id="s175" transform="translate(467,799)"><use href="#seat"/><text class="n" x="16.5" y="21">175</text></g>
<g id="s174" transform="translate(508,799)"><use href="#seat"/><text class="n" x="16.5" y="21">174</text></g>
<g id="s173" transform="translate(549,799)"><use href="#seat"/><text class="n" x="16.5" y="21">173</text></g>
<g id="s172" transform="translate(590,799)"><use href="#seat"/><text class="n" x="16.5" y="21">172</text></g>
<g id="s171" transform="translate(631,799)"><use href="#seat"/><text class="n" x="16.5" y="21">171</text></g>
<g id="s170" transform="translate(672,799)"><use href="#seat"/><text class="n" x="16.5" y="21">170</text></g>
<g id="s169" transform="translate(713,799)"><use href="#seat"/><text class="n" x="16.5" y="21">169</text></g>
<g id="s168" transform="translate(754,799)"><use href="#seat"/><text class="n" x="16.5" y="21">168</text></g>
<g id="s167" transform="translate(795,799)"><use href="#seat"/><text class="n" x="16.5" y="21">167</text></g>
<g id="s166" transform="translate(836,799)"><use href="#seat"/><text class="n" x="16.5" y="21">166</text></g>
<g id="s177" transform="translate(426,840)"><use href="#seat"/><text class="n" x="16.5" y="21">177</text></g>
<g id="s178" transform="translate(467,840)"><use href="#seat"/><text class="n" x="16.5" y="21">178</text></g>
<g id="s179" transform="translate(508,840)"><use href="#seat"/><text class="n" x="16.5" y="21">179</text></g>
<g id="s180" transform="translate(549,840)"><use href="#seat"/><text class="n" x="16.5" y="21">180</text></g>
<g id="s181" transform="translate(590,840)"><use href="#seat"/><text class="n" x="16.5" y="21">181</text></g>
<g id="s182" transform="translate(631,840)"><use href="#seat"/><text class="n" x="16.5" y="21">182</text></g>
<g id="s183" transform="translate(672,840)"><use href="#seat"/><text class="n" x="16.5" y="21">183</text></g>
<g id="s184" transform="translate(713,840)"><use href="#seat"/><text class="n" x="16.5" y="21">184</text></g>
<g id="s185" transform="translate(754,840)"><use href="#seat"/><text class="n" x="16.5" y="21">185</text></g>
<g id="s186" transform="translate(795,840)"><use href="#seat"/><text class="n" x="16.5" y="21">186</text></g>
<g id="s187" transform="translate(836,840)"><use href="#seat"/><text class="n" x="16.5" y="21">187</text></g>
</g>
<g id="right-seats">
<g id="s188" transform="translate(1003,184)"><use href="#seat"/><text class="n" x="16.5" y="21">188</text></g>
<g id="s189" transform="translate(1044,184)"><use href="#seat"/><text class="n" x="16.5" y="21">189</text></g>
<g id="s190" transform="translate(1085,184)"><use href="#seat"/><text class="n" x="16.5" y="21">190</text></g>
<g id="s191" transform="translate(1126,184)"><use href="#seat"/><text class="n" x="16.5" y="21">191</text></g>
<g id="s192" transform="translate(1167,184)"><use href="#seat"/><text class="n" x="16.5" y="21">192</text></g>
<g id="s197" transform="translate(1003,225)"><use href="#seat"/><text class="n" x="16.5" y="21">197</text></g>
<g id="s196" transform="translate(1044,225)"><use href="#seat"/><text class="n" x="16.5" y="21">196</text></g>
<g id="s195" transform="translate(1085,225)"><use href="#seat"/><text class="n" x="16.5" y="21">195</text></g>
<g id="s194" transform="translate(1126,225)"><use href="#seat"/><text class="n" x="16.5" y="21">194</text></g>
<g id="s193" transform="translate(1167,225)"><use href="#seat"/><text class="n" x="16.5" y="21">193</text></g>
<g id="s198" transform="translate(1003,266)"><use href="#seat"/><text class="n" x="16.5" y="21">198</text></g>
<g id="s199" transform="translate(1044,266)"><use href="#seat"/><text class="n" x="16.5" y="21">199</text></g>
<g id="s200" transform="translate(1085,266)"><use href="#seat"/><text class="n" x="16.5" y="21">200</text></g>
<g id="s201" transform="translate(1126,266)"><use href="#seat"/><text class="n" x="16.5" y="21">201</text></g>
<g id="s202" transform="translate(1167,266)"><use href="#seat"/><text class="n" x="16.5" y="21">202</text></g>
<g id="s207" transform="translate(1003,307)"><use href="#seat"/><text class="n" x="16.5" y="21">207</text></g>
<g id="s206" transform="translate(1044,307)"><use href="#seat"/><text class="n" x="16.5" y="21">206</text></g>
<g id="s205" transform="translate(1085,307)"><use href="#seat"/><text class="n" x="16.5" y="21">205</text></g>
<g id="s204" transform="translate(1126,307)"><use href="#seat"/><text class="n" x="16.5" y="21">204</text></g>
<g id="s203" transform="translate(1167,307)"><use href="#seat"/><text class="n" x="16.5" y="21">203</text></g>
<g id="s208" transform="translate(1003,348)"><use href="#seat"/><text class="n" x="16.5" y="21">208</text></g>
<g id="s209" transform="translate(1044,348)"><use href="#seat"/><text class="n" x="16.5" y="21">209</text></g>
<g id="s210" transform="translate(1085,348)"><use href="#seat"/><text class="n" x="16.5" y="21">210</text></g>
<g id="s211" transform="translate(1126,348)"><use href="#seat"/><text class="n" x="16.5" y="21">211</text></g>
<g id="s212" transform="translate(1167,348)"><use href="#seat"/><text class="n" x="16.5" y="21">212</text></g>
<g id="s217" transform="translate(1003,389)"><use href="#seat"/><text class="n" x="16.5" y="21">217</text></g>
<g id="s216" transform="translate(1044,389)"><use href="#seat"/><text class="n" x="16.5" y="21">216</text></g>
<g id="s215" transform="translate(1085,389)"><use href="#seat"/><text class="n" x="16.5" y="21">215</text></g>
<g id="s214" transform="translate(1126,389)"><use href="#seat"/><text class="n" x="16.5" y="21">214</text></g>
<g id="s213" transform="translate(1167,389)"><use href="#seat"/><text class="n" x="16.5" y="21">213</text></g>
<g id="sRG1" transform="translate(1003,430)"><use href="#black"/></g>
<g id="s219" transform="translate(1044,430)"><use href="#seat"/><text class="n" x="16.5" y="21">219</text></g>
<g id="s220" transform="translate(1085,430)"><use href="#seat"/><text class="n" x="16.5" y="21">220</text></g>
<g id="s221" transform="translate(1126,430)"><use href="#seat"/><text class="n" x="16.5" y="21">221</text></g>
<g id="s222" transform="translate(1167,430)"><use href="#seat"/><text class="n" x="16.5" y="21">222</text></g>
<g id="s227" transform="translate(1003,471)"><use href="#seat"/><text class="n" x="16.5" y="21">227</text></g>
<g id="s226" transform="translate(1044,471)"><use href="#seat"/><text class="n" x="16.5" y="21">226</text></g>
<g id="s225" transform="translate(1085,471)"><use href="#seat"/><text class="n" x="16.5" y="21">225</text></g>
<g id="s224" transform="translate(1126,471)"><use href="#seat"/><text class="n" x="16.5" y="21">224</text></g>
<g id="s223" transform="translate(1167,471)"><use href="#seat"/><text class="n" x="16.5" y="21">223</text></g>
<g id="s228" transform="translate(1003,512)"><use href="#seat"/><text class="n" x="16.5" y="21">228</text></g>
<g id="s229" transform="translate(1044,512)"><use href="#seat"/><text class="n" x="16.5" y="21">229</text></g>
<g id="s230" transform="translate(1085,512)"><use href="#seat"/><text class="n" x="16.5" y="21">230</text></g>
<g id="s231" transform="translate(1126,512)"><use href="#seat"/><text class="n" x="16.5" y="21">231</text></g>
<g id="s232" transform="translate(1167,512)"><use href="#seat"/><text class="n" x="16.5" y="21">232</text></g>
<g id="s237" transform="translate(1003,553)"><use href="#seat"/><text class="n" x="16.5" y="21">237</text></g>
<g id="s236" transform="translate(1044,553)"><use href="#seat"/><text class="n" x="16.5" y="21">236</text></g>
<g id="s235" transform="translate(1085,553)"><use href="#seat"/><text class="n" x="16.5" y="21">235</text></g>
<g id="s234" transform="translate(1126,553)"><use href="#seat"/><text class="n" x="16.5" y="21">234</text></g>
<g id="s233" transform="translate(1167,553)"><use href="#seat"/><text class="n" x="16.5" y="21">233</text></g>
<g id="s238" transform="translate(1003,594)"><use href="#seat"/><text class="n" x="16.5" y="21">238</text></g>
<g id="s239" transform="translate(1044,594)"><use href="#seat"/><text class="n" x="16.5" y="21">239</text></g>
<g id="s240" transform="translate(1085,594)"><use href="#seat"/><text class="n" x="16.5" y="21">240</text></g>
<g id="s241" transform="translate(1126,594)"><use href="#seat"/><text class="n" x="16.5" y="21">241</text></g>
<g id="s242" transform="translate(1167,594)"><use href="#seat"/><text class="n" x="16.5" y="21">242</text></g>
<g id="s247" transform="translate(1003,635)"><use href="#seat"/><text class="n" x="16.5" y="21">247</text></g>
<g id="s246" transform="translate(1044,635)"><use href="#seat"/><text class="n" x="16.5" y="21">246</text></g>
<g id="s245" transform="translate(1085,635)"><use href="#seat"/><text class="n" x="16.5" y="21">245</text></g>
<g id="s244" transform="translate(1126,635)"><use href="#seat"/><text class="n" x="16.5" y="21">244</text></g>
<g id="sRL5" transform="translate(1167,635)"><use href="#black"/></g>
<g id="s248" transform="translate(1003,676)"><use href="#seat"/><text class="n" x="16.5" y="21">248</text></g>
<g id="s249" transform="translate(1044,676)"><use href="#seat"/><text class="n" x="16.5" y="21">249</text></g>
<g id="s250" transform="translate(1085,676)"><use href="#seat"/><text class="n" x="16.5" y="21">250</text></g>
<g id="s251" transform="translate(1126,676)"><use href="#seat"/><text class="n" x="16.5" y="21">251</text></g>
<g id="s252" transform="translate(1167,676)"><use href="#seat"/><text class="n" x="16.5" y="21">252</text></g>
<g id="s257" transform="translate(1003,717)"><use href="#seat"/><text class="n" x="16.5" y="21">257</text></g>
<g id="s256" transform="translate(1044,717)"><use href="#seat"/><text class="n" x="16.5" y="21">256</text></g>
<g id="s255" transform="translate(1085,717)"><use href="#seat"/><text class="n" x="16.5" y="21">255</text></g>
<g id="s254" transform="translate(1126,717)"><use href="#seat"/><text class="n" x="16.5" y="21">254</text></g>
<g id="s253" transform="translate(1167,717)"><use href="#seat"/><text class="n" x="16.5" y="21">253</text></g>
<g id="s258" transform="translate(1003,758)"><use href="#seat"/><text class="n" x="16.5" y="21">258</text></g>
<g id="s259" transform="translate(1044,758)"><use href="#seat"/><text class="n" x="16.5" y="21">259</text></g>
<g id="s260" transform="translate(1085,758)"><use href="#seat"/><text class="n" x="16.5" y="21">260</text></g>
<g id="s261" transform="translate(1126,758)"><use href="#seat"/><text class="n" x="16.5" y="21">261</text></g>
<g id="s262" transform="translate(1167,758)"><use href="#seat"/><text class="n" x="16.5" y="21">262</text></g>
<g id="s267" transform="translate(1003,799)"><use href="#seat"/><text class="n" x="16.5" y="21">267</text></g>
<g id="s266" transform="translate(1044,799)"><use href="#seat"/><text class="n" x="16.5" y="21">266</text></g>
<g id="s265" transform="translate(1085,799)"><use href="#seat"/><text class="n" x="16.5" y="21">265</text></g>
<g id="s264" transform="translate(1126,799)"><use href="#seat"/><text class="n" x="16.5" y="21">264</text></g>
<g id="s263" transform="translate(1167,799)"><use href="#seat"/><text class="n" x="16.5" y="21">263</text></g>
<g id="s268" transform="translate(1003,840)"><use href="#seat"/><text class="n" x="16.5" y="21">268</text></g>
<g id="s269" transform="translate(1044,840)"><use href="#seat"/><text class="n" x="16.5" y="21">269</text></g>
<g id="s270" transform="translate(1085,840)"><use href="#seat"/><text class="n" x="16.5" y="21">270</text></g>
<g id="s271" transform="translate(1126,840)"><use href="#seat"/><text class="n" x="16.5" y="21">271</text></g>
<g id="s272" transform="translate(1167,840)"><use href="#seat"/><text class="n" x="16.5" y="21">272</text></g>
</g>
<g id="connectors"/>
</svg>
